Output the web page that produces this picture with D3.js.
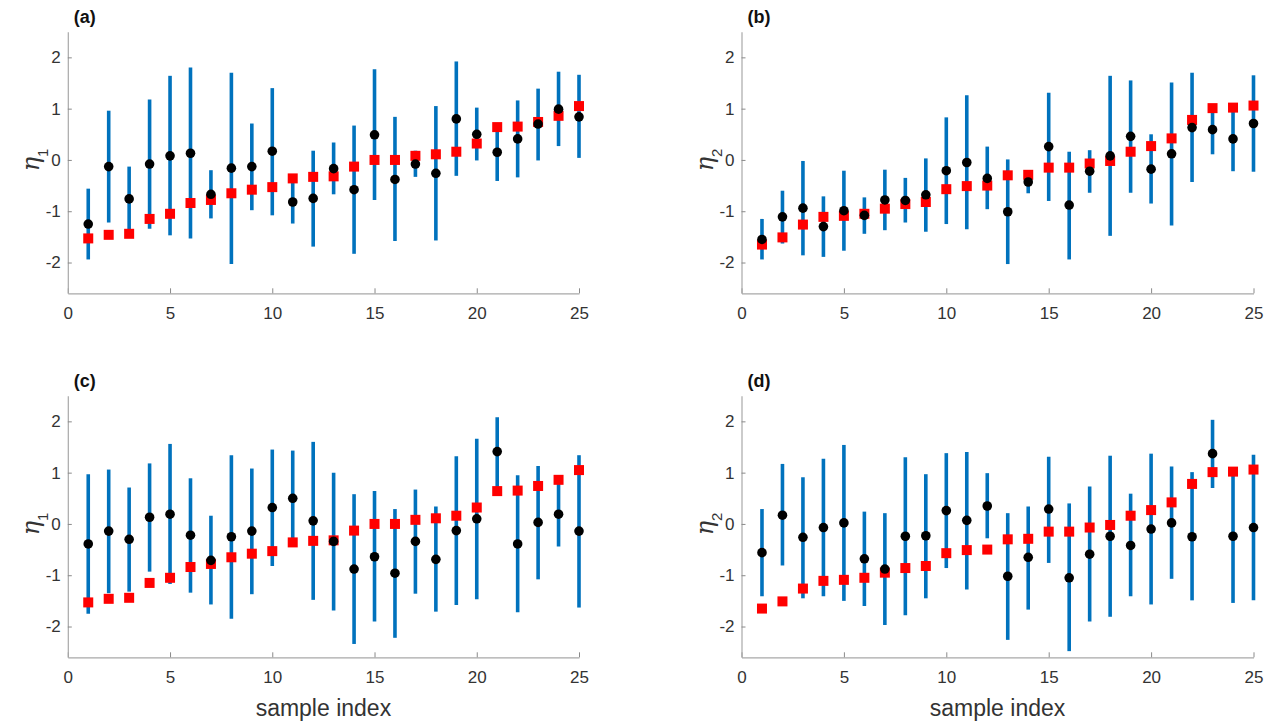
<!DOCTYPE html>
<html><head><meta charset="utf-8">
<script src="https://cdn.jsdelivr.net/npm/d3@7"></script>
<style>body{margin:0;background:#fff}svg{display:block}</style>
</head><body>
<svg id="chart" width="1278" height="727"></svg>
<script>
const sampleIndex = d3.range(1, 26);
const xTicks = [0, 5, 10, 15, 20, 25];
const yTicks = [-2, -1, 0, 1, 2];

// true values (red squares)
const trueEta1 = [-1.53,-1.46,-1.44,-1.15,-1.05,-0.84,-0.78,-0.65,-0.58,-0.53,-0.36,-0.33,-0.32,-0.13,0.00,0.00,0.08,0.11,0.16,0.32,0.64,0.65,0.74,0.86,1.05];
const trueEta2 = [-1.65,-1.51,-1.26,-1.11,-1.09,-1.05,-0.95,-0.86,-0.82,-0.57,-0.51,-0.50,-0.30,-0.29,-0.15,-0.15,-0.07,-0.02,0.16,0.27,0.42,0.78,1.01,1.02,1.06];

// panel (a)
const estA = [-1.25,-0.13,-0.76,-0.08,0.08,0.13,-0.67,-0.16,-0.13,0.17,-0.82,-0.75,-0.17,-0.58,0.49,-0.38,-0.08,-0.26,0.80,0.50,0.15,0.41,0.70,0.99,0.84];
const loA  = [-1.94,-1.22,-1.40,-1.34,-1.47,-1.53,-1.14,-2.03,-0.98,-1.08,-1.24,-1.69,-0.67,-1.83,-0.78,-1.58,-0.33,-1.57,-0.31,-0.01,-0.41,-0.34,-0.01,0.27,0.04];
const hiA  = [-0.56,0.96,-0.13,1.18,1.64,1.80,-0.20,1.70,0.71,1.40,-0.37,0.18,0.34,0.67,1.77,0.84,0.18,1.05,1.92,1.02,0.68,1.16,1.39,1.72,1.66];

// panel (b)
const estB = [-1.55,-1.11,-0.94,-1.30,-0.99,-1.08,-0.78,-0.79,-0.68,-0.21,-0.05,-0.36,-1.01,-0.43,0.26,-0.88,-0.22,0.08,0.46,-0.18,0.12,0.63,0.59,0.41,0.71];
const loB  = [-1.94,-1.63,-1.86,-1.89,-1.77,-1.44,-1.37,-1.22,-1.40,-1.25,-1.35,-0.96,-2.03,-0.65,-0.80,-1.94,-0.64,-1.48,-0.64,-0.85,-1.28,-0.43,0.11,-0.22,-0.23];
const hiB  = [-1.15,-0.60,-0.02,-0.71,-0.21,-0.73,-0.19,-0.35,0.03,0.83,1.26,0.26,0.01,-0.28,1.31,0.16,0.19,1.64,1.55,0.50,1.51,1.70,1.00,1.01,1.65];

// panel (c)
const estC = [-0.39,-0.14,-0.30,0.13,0.19,-0.22,-0.71,-0.25,-0.14,0.32,0.50,0.06,-0.34,-0.88,-0.64,-0.96,-0.34,-0.69,-0.13,0.10,1.41,-0.39,0.03,0.19,-0.14];
const loC  = [-1.75,-1.35,-1.32,-0.93,-1.17,-1.34,-1.57,-1.85,-1.37,-0.82,-0.38,-1.48,-1.69,-2.34,-1.90,-2.22,-1.36,-1.71,-1.58,-1.47,0.62,-1.72,-1.08,-0.44,-1.63];
const hiC  = [0.97,1.06,0.71,1.18,1.56,0.89,0.16,1.34,1.08,1.45,1.43,1.60,1.00,0.58,0.64,0.29,0.67,0.34,1.32,1.66,2.08,0.95,1.13,0.86,1.34];

// panel (d)
const estD = [-0.56,0.17,-0.26,-0.07,0.02,-0.68,-0.88,-0.24,-0.23,0.26,0.07,0.35,-1.02,-0.65,0.29,-1.05,-0.59,-0.24,-0.42,-0.10,0.02,-0.25,1.37,-0.24,-0.07];
const loD  = [-1.41,-0.81,-1.45,-1.41,-1.50,-1.60,-1.97,-1.78,-1.45,-0.86,-1.28,-0.28,-2.26,-1.67,-0.76,-2.48,-1.90,-1.81,-1.41,-1.57,-1.07,-1.49,0.70,-1.54,-1.49];
const hiD  = [0.29,1.17,0.91,1.27,1.54,0.24,0.21,1.30,0.97,1.38,1.40,0.99,0.21,0.34,1.31,0.40,0.73,1.33,0.59,1.37,1.12,1.01,2.03,1.02,1.35];

const panels = [
  {label:"(a)", sub:"1", est:estA, lo:loA, hi:hiA, tru:trueEta1, left:67.8, right:579, top:31.7, bottom:293.3, xlabel:false},
  {label:"(b)", sub:"2", est:estB, lo:loB, hi:hiB, tru:trueEta2, left:741.5, right:1253.5, top:31.7, bottom:293.3, xlabel:false},
  {label:"(c)", sub:"1", est:estC, lo:loC, hi:hiC, tru:trueEta1, left:67.8, right:579, top:395.7, bottom:657.3, xlabel:true},
  {label:"(d)", sub:"2", est:estD, lo:loD, hi:hiD, tru:trueEta2, left:741.5, right:1253.5, top:395.7, bottom:657.3, xlabel:true}
];

const svg = d3.select("#chart");
const FONT = "'Liberation Sans', Arial, Helvetica, sans-serif";

panels.forEach(p => {
  const x = d3.scaleLinear().domain([0, 25]).range([p.left, p.right]);
  const y = d3.scaleLinear().domain([-2.6, 2.5]).range([p.bottom, p.top]);
  const g = svg.append("g");

  // axes
  const xAxis = d3.axisBottom(x).tickValues(xTicks).tickSizeInner(-5).tickSizeOuter(0).tickPadding(14);
  const yAxis = d3.axisLeft(y).tickValues(yTicks).tickSizeInner(-4).tickSizeOuter(0).tickPadding(7)
                  .tickFormat(d => d < 0 ? "-" + Math.abs(d) : d);
  const gx = g.append("g").attr("transform", `translate(0,${p.bottom})`).call(xAxis);
  const gy = g.append("g").attr("transform", `translate(${p.left},0)`).call(yAxis);
  [gx, gy].forEach(a => {
    a.select(".domain").attr("stroke", "#a8a8a8").attr("stroke-width", 1.2);
    a.selectAll(".tick line").attr("stroke", "#8a8a8a").attr("stroke-width", 1);
    a.selectAll(".tick text").attr("fill", "#333").style("font-family", FONT).style("font-size", "17px");
  });

  // error bars
  g.append("g").selectAll("line").data(sampleIndex).join("line")
    .attr("x1", (d) => x(d)).attr("x2", (d) => x(d))
    .attr("y1", (d, i) => y(p.lo[i])).attr("y2", (d, i) => y(p.hi[i]))
    .attr("stroke", "#0072BD").attr("stroke-width", 3.6);

  // true values
  const s = 10;
  g.append("g").selectAll("rect").data(sampleIndex).join("rect")
    .attr("x", d => x(d) - s/2).attr("y", (d, i) => y(p.tru[i]) - s/2)
    .attr("width", s).attr("height", s).attr("fill", "#ff0000");

  // estimates
  g.append("g").selectAll("circle").data(sampleIndex).join("circle")
    .attr("cx", d => x(d)).attr("cy", (d, i) => y(p.est[i]))
    .attr("r", 4.8).attr("fill", "#000");

  // panel label
  g.append("text").attr("x", p.left + 6).attr("y", p.top - 9)
    .style("font-family", FONT).style("font-size", "18px").style("font-weight", "bold")
    .attr("fill", "#111").text(p.label);

  // y label
  const yl = g.append("text")
    .attr("transform", `translate(${p.left - 29},${y(0)}) rotate(-90)`)
    .attr("text-anchor", "middle")
    .style("font-family", FONT).style("font-size", "24px").attr("fill", "#333");
  yl.append("tspan").style("font-style", "italic").style("font-family", "'DejaVu Serif', 'Liberation Serif', serif").text("η");
  yl.append("tspan").attr("baseline-shift", "sub").style("font-size", "15px").text(p.sub);

  if (p.xlabel) {
    g.append("text").attr("x", (p.left + p.right) / 2).attr("y", p.bottom + 59)
      .attr("text-anchor", "middle")
      .style("font-family", FONT).style("font-size", "23px").attr("fill", "#333")
      .text("sample index");
  }
});
</script>
</body></html>
